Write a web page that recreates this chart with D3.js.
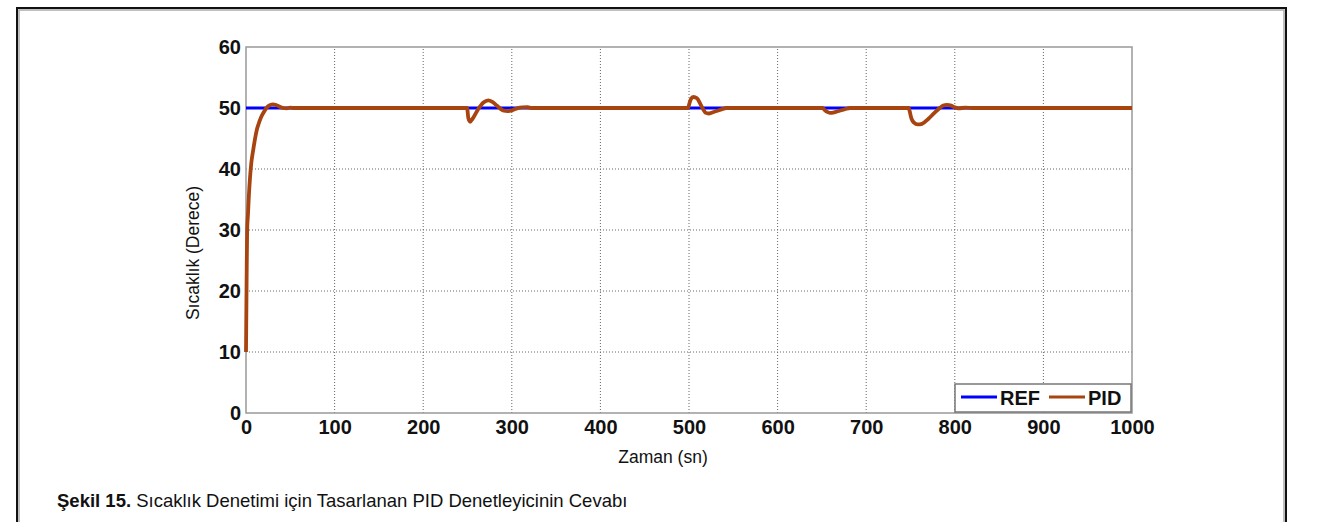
<!DOCTYPE html>
<html>
<head>
<meta charset="utf-8">
<script src="https://cdn.jsdelivr.net/npm/d3@7"></script>
<style>
  body { margin: 0; background: #fff; }
  svg { display: block; font-family: "Liberation Sans", Arial, sans-serif; }
</style>
</head>
<body>
<svg id="chart" width="1330" height="522"></svg>
<script>
// veriler
const xTicks = [0, 100, 200, 300, 400, 500, 600, 700, 800, 900, 1000];
const yTicks = [0, 10, 20, 30, 40, 50, 60];

const refTime = [0, 1000];
const refTemp = [50, 50];

const pidTime = [0, 0.7, 1.3, 2.2, 3.2, 4.5, 6, 8, 10, 12, 14, 17, 20, 23, 26, 30, 34, 38, 42, 46, 50, 54,
  248, 249.5, 251, 253, 256, 262, 268, 273.5, 278, 283, 287, 291, 295, 300, 306, 312, 318, 322,
  499, 500, 502, 505, 509, 513, 516, 519, 522, 527, 533, 538, 542,
  651, 653, 656, 659, 664, 670, 676, 682,
  748, 749, 751, 754, 758, 763, 770, 777, 783, 787, 791, 796, 800, 804, 812, 821,
  1000];
const pidTemp = [10, 22, 30, 32.5, 35.5, 38.5, 41, 43, 44.8, 46.3, 47.3, 48.5, 49.3, 50, 50.4, 50.6, 50.5, 50.2, 50.0, 49.95, 50.05, 50,
  50, 50, 48.3, 47.75, 48.3, 49.8, 50.9, 51.25, 51.0, 50.4, 49.9, 49.55, 49.5, 49.6, 49.95, 50.1, 50.12, 50,
  50, 50.5, 51.4, 51.8, 51.6, 50.6, 49.8, 49.2, 49.1, 49.3, 49.6, 49.85, 50,
  50, 49.7, 49.35, 49.2, 49.3, 49.55, 49.8, 50,
  50, 49.5, 48.3, 47.6, 47.3, 47.4, 48.2, 49.2, 50, 50.4, 50.5, 50.4, 50.1, 49.95, 50.05, 50,
  50];

const svg = d3.select("#chart");

// dış çerçeve
svg.append("path").attr("d", "M19,530V10H1284V530")
  .attr("fill", "none").attr("stroke", "#aaa").attr("stroke-width", 1.5);
svg.append("path").attr("d", "M17,530V8H1286V530")
  .attr("fill", "none").attr("stroke", "#111").attr("stroke-width", 2);

const x = d3.scaleLinear().domain([0, 1000]).range([246, 1132]);
const y = d3.scaleLinear().domain([0, 60]).range([413, 47]);

// ızgara
svg.append("g").selectAll("line").data(xTicks.slice(1, -1)).enter().append("line")
  .attr("x1", d => x(d)).attr("x2", d => x(d))
  .attr("y1", y(0)).attr("y2", y(60))
  .attr("stroke", "#666").attr("stroke-width", 1).attr("stroke-dasharray", "1,2");
svg.append("g").selectAll("line").data(yTicks.slice(1, -1)).enter().append("line")
  .attr("x1", x(0)).attr("x2", x(1000))
  .attr("y1", d => y(d)).attr("y2", d => y(d))
  .attr("stroke", "#666").attr("stroke-width", 1).attr("stroke-dasharray", "1,2");

// eksen kutusu
svg.append("rect")
  .attr("x", x(0)).attr("y", y(60))
  .attr("width", x(1000) - x(0)).attr("height", y(0) - y(60))
  .attr("fill", "none").attr("stroke", "#999").attr("stroke-width", 1.5);

const xAxis = svg.append("g")
  .attr("transform", `translate(0,${y(0)})`)
  .call(d3.axisBottom(x).tickValues(xTicks).tickSize(0).tickPadding(7).tickFormat(d3.format("d")));
const yAxis = svg.append("g")
  .attr("transform", `translate(${x(0)},0)`)
  .call(d3.axisLeft(y).tickValues(yTicks).tickSize(0).tickPadding(5).tickFormat(d3.format("d")));
[xAxis, yAxis].forEach(a => {
  a.select(".domain").remove();
  a.selectAll("text")
    .attr("font-family", "'Liberation Sans', Arial, sans-serif")
    .attr("font-size", 20).attr("font-weight", "bold").attr("fill", "#111");
});

// çizgiler
const line = d3.line().x(d => x(d[0])).y(d => y(d[1])).curve(d3.curveMonotoneX);

svg.append("path")
  .datum(d3.zip(refTime, refTemp))
  .attr("d", line).attr("fill", "none")
  .attr("stroke", "#0000ff").attr("stroke-width", 3);

svg.append("path")
  .datum(d3.zip(pidTime, pidTemp))
  .attr("d", line).attr("fill", "none")
  .attr("stroke", "#a8440f").attr("stroke-width", 3.8)
  .attr("stroke-linejoin", "round");

// lejant
const leg = svg.append("g");
leg.append("rect").attr("x", 955).attr("y", 384).attr("width", 176).attr("height", 28)
  .attr("fill", "#fff").attr("stroke", "#777").attr("stroke-width", 1.5);
const items = [["REF", "#0000ff", 961], ["PID", "#a8440f", 1049]];
items.forEach(([name, color, lx]) => {
  leg.append("line").attr("x1", lx).attr("x2", lx + 36).attr("y1", 397).attr("y2", 397)
    .attr("stroke", color).attr("stroke-width", 3);
  leg.append("text").attr("x", lx + 39).attr("y", 405)
    .attr("font-size", 20).attr("font-weight", "bold").attr("fill", "#111").text(name);
});

// eksen başlıkları
svg.append("text").attr("x", 663).attr("y", 463).attr("text-anchor", "middle")
  .attr("font-size", 17.5).attr("fill", "#111").text("Zaman (sn)");
svg.append("text").attr("transform", "translate(198.5,253) rotate(-90)")
  .attr("text-anchor", "middle").attr("font-size", 17.5).attr("fill", "#111")
  .text("Sıcaklık (Derece)");

// şekil açıklaması
const cap = svg.append("text").attr("x", 57).attr("y", 507).attr("font-size", 18.5).attr("fill", "#111");
cap.append("tspan").attr("font-weight", "bold").text("Şekil 15.");
cap.append("tspan").text(" Sıcaklık Denetimi için Tasarlanan PID Denetleyicinin Cevabı");
</script>
</body>
</html>
